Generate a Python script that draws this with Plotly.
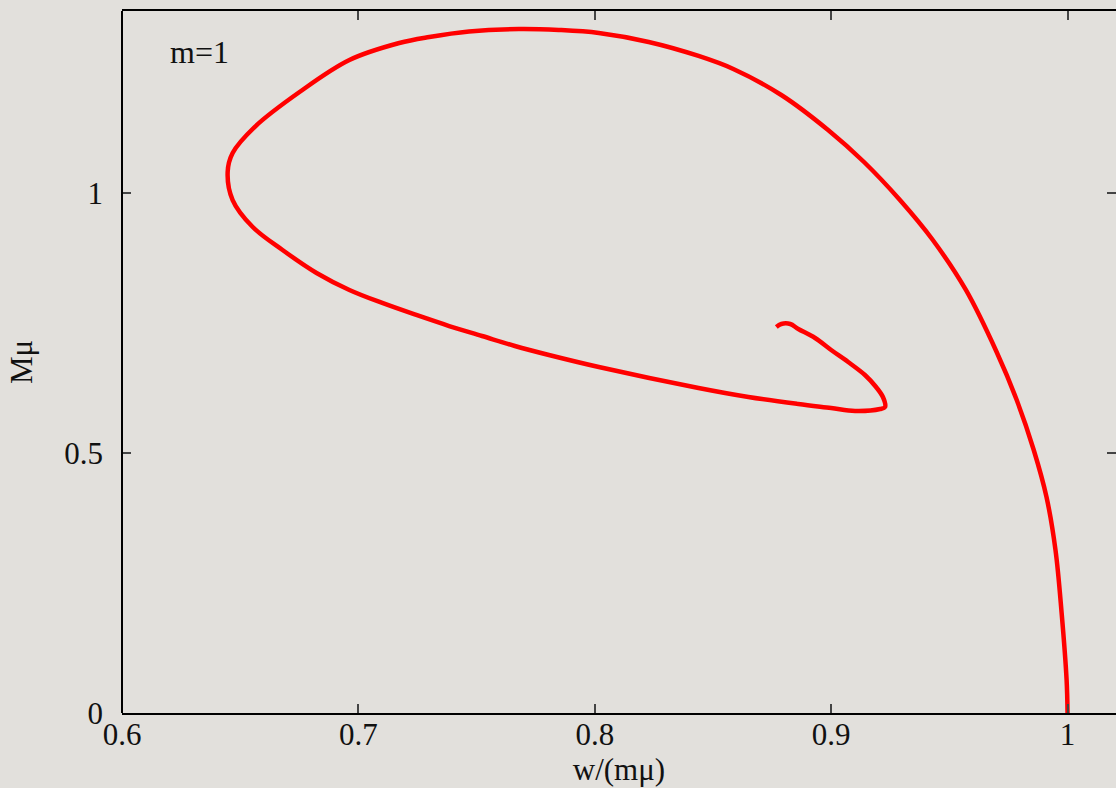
import plotly.graph_objects as go

# Mass vs frequency curve for m = 1 (from the vacuum limit w = m*mu, spiralling inward)
w_over_mmu = [
    1.0000, 0.9996, 0.9975, 0.9949, 0.9911, 0.9857, 0.9785, 0.9700, 0.9570, 0.9430,
    0.9291, 0.9139, 0.8987, 0.8789, 0.8586, 0.8439, 0.8228, 0.8017, 0.7848, 0.7679,
    0.7468, 0.7300, 0.7173, 0.6962, 0.6751, 0.6561, 0.6468, 0.6447, 0.6468, 0.6553,
    0.6679, 0.6823, 0.6962, 0.7101, 0.7245, 0.7384, 0.7523, 0.7662, 0.7806, 0.8017,
    0.8439, 0.8650, 0.8861, 0.9000, 0.9101, 0.9207, 0.9228, 0.9219, 0.9190, 0.9143,
    0.9072, 0.9000, 0.8932, 0.8861, 0.8827, 0.8789, 0.8768,
]
mass_mu = [
    0.0000, 0.0635, 0.1923, 0.3135, 0.4154, 0.5058, 0.6019, 0.6942, 0.8135, 0.9096,
    0.9865, 1.0596, 1.1212, 1.1885, 1.2385, 1.2635, 1.2904, 1.3077, 1.3135, 1.3154,
    1.3106, 1.3000, 1.2885, 1.2558, 1.1942, 1.1269, 1.0769, 1.0404, 0.9865, 0.9346,
    0.8904, 0.8462, 0.8135, 0.7885, 0.7654, 0.7442, 0.7250, 0.7058, 0.6885, 0.6654,
    0.6250, 0.6077, 0.5942, 0.5865, 0.5808, 0.5846, 0.5885, 0.6077, 0.6269, 0.6500,
    0.6750, 0.6981, 0.7212, 0.7385, 0.7481, 0.7481, 0.7423,
]

x_ticks = [0.6, 0.7, 0.8, 0.9, 1.0]
x_tick_text = ["0.6", "0.7", "0.8", "0.9", "1"]
y_ticks = [0, 0.5, 1]
y_tick_text = ["0", "0.5", "1"]

BG = "#e2e0dc"
SERIF = "Liberation Serif"
FS = 31

fig = go.Figure()
fig.add_trace(go.Scatter(
    x=w_over_mmu, y=mass_mu, mode="lines",
    line=dict(color="#ff0000", width=4.5, shape="spline", smoothing=1.0),
    showlegend=False, hoverinfo="skip",
))

fig.add_annotation(
    x=0.6195, y=1.272, xref="x", yref="y", text="m=1", showarrow=False,
    xanchor="left", yanchor="middle",
    font=dict(family=SERIF, size=32, color="#111111"),
)

# left frame edge (the y axis line itself is hidden so the right edge stays open)
fig.add_shape(type="line", xref="paper", yref="paper", x0=0, x1=0, y0=0, y1=1,
              line=dict(color="#000000", width=2))

fig.update_layout(
    width=1116, height=788,
    margin=dict(l=122, r=0, t=11, b=75),
    paper_bgcolor=BG, plot_bgcolor=BG,
    font=dict(family=SERIF, size=FS, color="#111111"),
    xaxis=dict(
        range=[0.6, 1.0205], tickvals=x_ticks, ticktext=x_tick_text,
        showline=True, linecolor="#000000", linewidth=2, mirror="ticks",
        ticks="inside", ticklen=9, tickwidth=2, tickcolor="#444444",
        showgrid=False, zeroline=False, ticklabelstandoff=-7,
        title=dict(text="w/(mμ)", standoff=4, font=dict(family=SERIF, size=FS)),
    ),
    yaxis=dict(
        range=[0, 1.35], tickvals=y_ticks, ticktext=y_tick_text,
        showline=False, mirror="ticks",
        ticks="inside", ticklen=9, tickwidth=2, tickcolor="#444444",
        showgrid=False, zeroline=False, ticklabelstandoff=18,
        title=dict(text="Mμ", standoff=22, font=dict(family=SERIF, size=FS)),
    ),
)

fig.write_html("out.html")
